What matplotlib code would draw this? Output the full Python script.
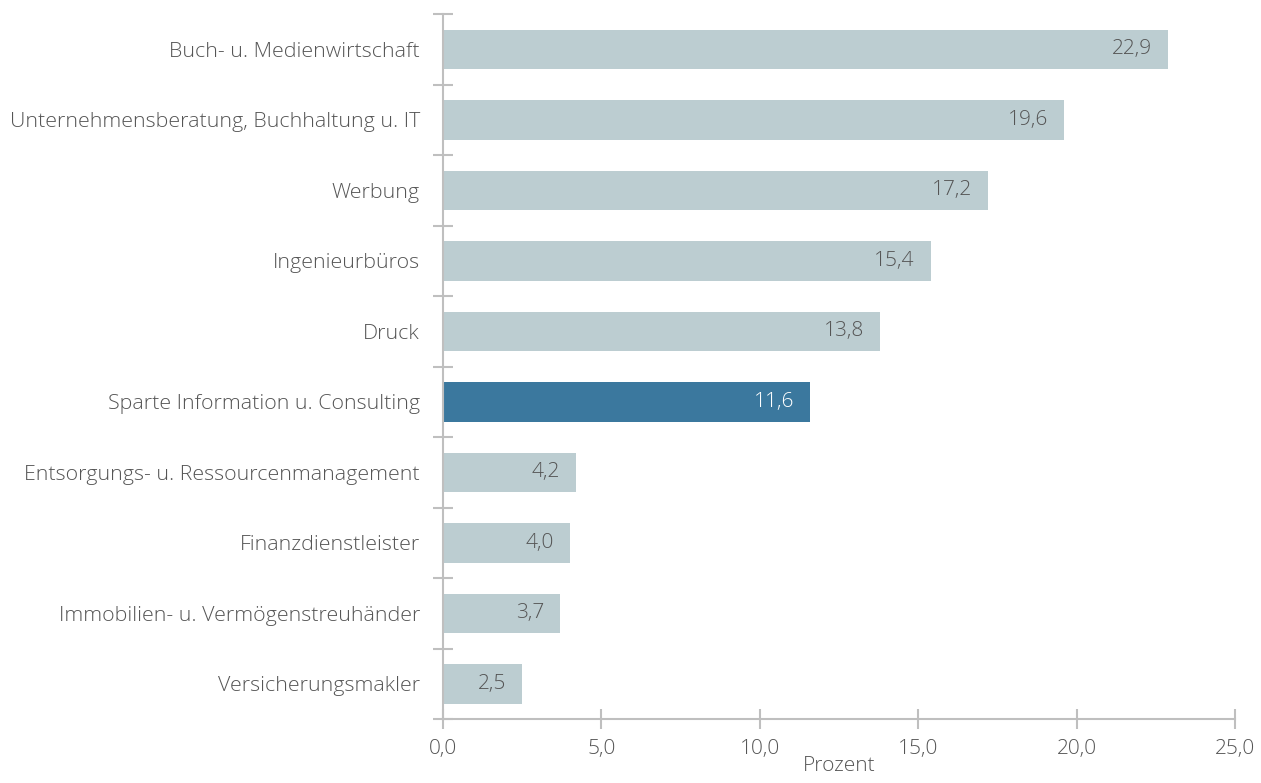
import matplotlib.pyplot as plt
import numpy as np

categories = [
    "Buch- u. Medienwirtschaft",
    "Unternehmensberatung, Buchhaltung u. IT",
    "Werbung",
    "Ingenieurbüros",
    "Druck",
    "Sparte Information u. Consulting",
    "Entsorgungs- u. Ressourcenmanagement",
    "Finanzdienstleister",
    "Immobilien- u. Vermögenstreuhänder",
    "Versicherungsmakler",
]
values = [22.9, 19.6, 17.2, 15.4, 13.8, 11.6, 4.2, 4.0, 3.7, 2.5]
highlight = "Sparte Information u. Consulting"
x_ticks = [0, 5, 10, 15, 20, 25]

plt.rcParams['font.family'] = ['Open Sans', 'DejaVu Sans']
text_col = '#555555'
light = '#BCCDD1'
dark = '#3B789E'
axis_col = '#BFBFBF'
fs = 15

fig = plt.figure(figsize=(12.61, 7.83), dpi=100)
ax = fig.add_axes([0.3513, 0.0817, 0.6281, 0.9004])

y = np.arange(len(categories))
colors = [dark if c == highlight else light for c in categories]
ax.barh(y, values, height=0.56, color=colors)

# value labels inside the bar ends
for yi, v, c in zip(y, values, categories):
    ax.annotate(f"{v:.1f}".replace('.', ','), (v, yi), xytext=(-16, 0),
                textcoords='offset pixels',
                ha='right', va='center', fontsize=fs, fontweight='light',
                color='white' if c == highlight else text_col)

ax.set_ylim(len(categories) - 0.5, -0.5)
ax.set_xlim(0, 25)

ax.set_yticks(y)
ax.set_yticklabels(categories)
ax.set_yticks(np.arange(-0.5, len(categories)), minor=True)
ax.tick_params(axis='y', which='major', length=0, pad=16.5, labelsize=15.4,
               labelcolor=text_col)
ax.tick_params(axis='y', which='minor', direction='inout', length=15,
               width=1.5, color=axis_col)

ax.set_xticks(x_ticks)
ax.set_xticklabels([f"{t:.1f}".replace('.', ',') for t in x_ticks])
ax.tick_params(axis='x', direction='inout', length=15, width=1.5,
               color=axis_col, labelsize=fs, labelcolor=text_col, pad=7)
ax.set_xlabel("Prozent", fontsize=fs, color=text_col, labelpad=-2,
              fontweight='light')

for s in ['top', 'right']:
    ax.spines[s].set_visible(False)
for s in ['left', 'bottom']:
    ax.spines[s].set_color(axis_col)
    ax.spines[s].set_linewidth(1.5)

for lbl in ax.get_yticklabels() + ax.get_xticklabels():
    lbl.set_fontweight('light')

fig.savefig('out.png', dpi=100)
